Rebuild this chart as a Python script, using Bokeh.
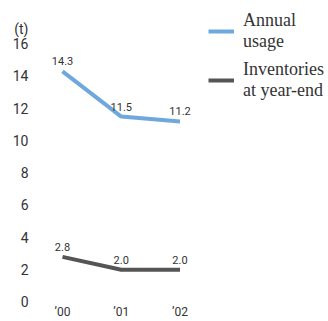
from bokeh.plotting import figure
from bokeh.models import (ColumnDataSource, Range1d, FixedTicker, Legend,
                          LegendItem)
from bokeh.core.properties import value
from bokeh.embed import file_html
from bokeh.resources import INLINE

# Data
years = ["\u201900", "\u201901", "\u201902"]
annual_usage = [14.3, 11.5, 11.2]
inventories = [2.8, 2.0, 2.0]
y_ticks = [0, 2, 4, 6, 8, 10, 12, 14, 16]
unit_label = "(t)"
unit_pos = 16.95  # unit caption sits on the y axis just above the top tick

BLUE = "#6fa8dc"
DARK = "#555555"
TXT = "#333333"
SANS = "Roboto"
SERIF = "Liberation Serif"

xs = list(range(len(years)))
src_usage = ColumnDataSource(dict(x=xs, y=annual_usage,
                                  lab=[f"{v:.1f}" for v in annual_usage]))
src_inv = ColumnDataSource(dict(x=xs, y=inventories,
                                lab=[f"{v:.1f}" for v in inventories]))

p = figure(width=328, height=321, output_backend="svg", toolbar_location=None,
           x_range=Range1d(-0.4766, 4.528), y_range=Range1d(-0.03, 18.70),
           min_border_left=34, min_border_right=0, min_border_top=0,
           min_border_bottom=0, outline_line_color=None,
           background_fill_color="white", border_fill_color="white")
p.grid.visible = False

# y axis: bare labels only, plus the unit caption
p.yaxis.ticker = FixedTicker(ticks=y_ticks + [unit_pos])
p.yaxis.major_label_overrides = {unit_pos: unit_label}
p.yaxis.axis_line_color = None
p.yaxis.major_tick_line_color = None
p.yaxis.minor_tick_line_color = None
p.yaxis.major_tick_out = 0
p.yaxis.major_tick_in = 0
p.yaxis.minor_tick_out = 0
p.yaxis.major_label_standoff = 6
p.yaxis.major_label_text_font = SANS
p.yaxis.major_label_text_font_size = "14px"
p.yaxis.major_label_text_color = TXT

# x axis: year labels
p.xaxis.ticker = FixedTicker(ticks=xs)
p.xaxis.major_label_overrides = {i: y for i, y in enumerate(years)}
p.xaxis.axis_line_color = None
p.xaxis.major_tick_line_color = None
p.xaxis.minor_tick_line_color = None
p.xaxis.major_tick_out = 0
p.xaxis.major_tick_in = 0
p.xaxis.minor_tick_out = 0
p.xaxis.major_label_standoff = 2
p.xaxis.major_label_text_font = SANS
p.xaxis.major_label_text_font_size = "12px"
p.xaxis.major_label_text_color = TXT

r_usage = p.line("x", "y", source=src_usage, line_color=BLUE, line_width=4)
r_inv = p.line("x", "y", source=src_inv, line_color=DARK, line_width=4)

for src in (src_usage, src_inv):
    p.text("x", "y", text="lab", source=src, text_align="center",
           text_baseline="bottom", y_offset=-6,
           text_font=value(SANS), text_font_size="11px", text_color=TXT)

# one legend block per series, stacked at the top right
legend_style = dict(border_line_color=None, background_fill_alpha=0,
                    glyph_width=26, glyph_height=10,
                    label_text_font=SERIF, label_text_font_size="18px",
                    label_text_color=TXT, label_text_line_height=0.8,
                    padding=0, margin=0, label_standoff=9)
p.add_layout(Legend(items=[LegendItem(label="Annual\nusage", renderers=[r_usage])],
                    location=(174, 250), **legend_style))
p.add_layout(Legend(items=[LegendItem(label="Inventories\nat year-end", renderers=[r_inv])],
                    location=(174, 201), **legend_style))

open("out.html", "w").write(file_html(p, INLINE))
